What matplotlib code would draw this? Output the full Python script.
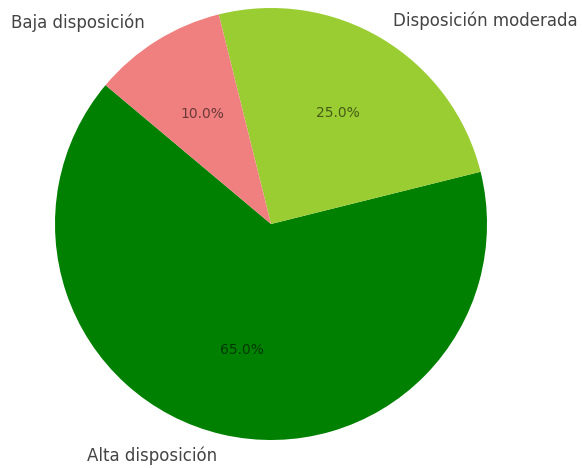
import matplotlib
matplotlib.use("Agg")
import matplotlib.pyplot as plt

# datos
etiquetas = ["Alta disposición", "Disposición moderada", "Baja disposición"]
porcentajes = [65, 25, 10]
colores = ["green", "yellowgreen", "lightcoral"]

fig = plt.figure(figsize=(5.82, 4.68), dpi=100)
# radio 1 = 216 px, centro en (271, 224) desde arriba
ax = fig.add_axes([1 / 582, -26 / 468, 540 / 582, 540 / 468])
wedges, textos, autotextos = ax.pie(
    porcentajes,
    labels=etiquetas,
    colors=colores,
    autopct="%1.1f%%",
    startangle=140,
    textprops={"fontsize": 10},
)
for t in textos:
    t.set_color("#444444")
    t.set_fontsize(12)
for t in autotextos:
    t.set_color("black")
    t.set_alpha(0.55)
ax.set_xlim(-1.25, 1.25)
ax.set_ylim(-1.25, 1.25)
ax.set_aspect("equal")
ax.axis("off")

fig.savefig("out.png", dpi=100)
